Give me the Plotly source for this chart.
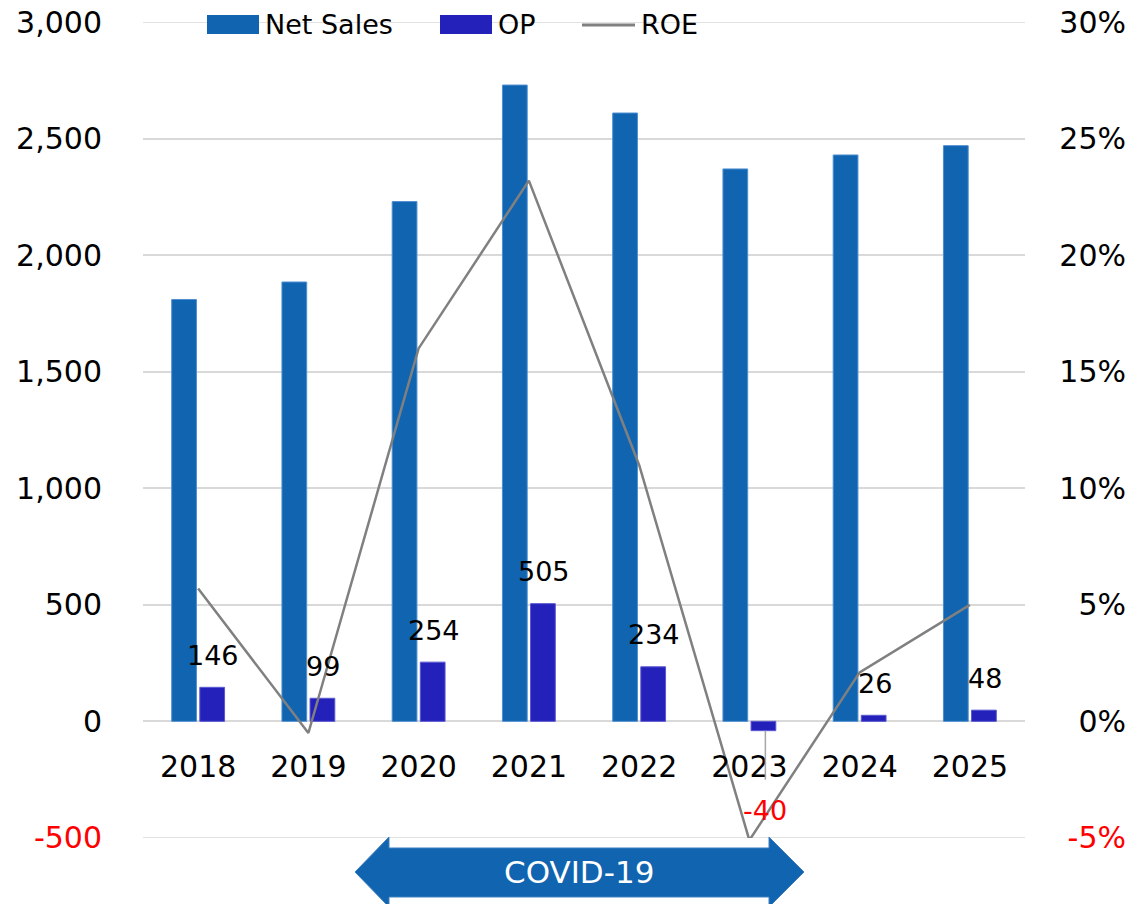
import plotly.graph_objects as go

# values
years = ['2018', '2019', '2020', '2021', '2022', '2023', '2024', '2025']
net_sales = [1810, 1885, 2230, 2730, 2610, 2370, 2430, 2470]
op = [146, 99, 254, 505, 234, -40, 26, 48]
roe_pct = [5.7, -0.5, 16.0, 23.2, 11.0, -5.1, 2.1, 5.0]

left_ticks = [-500, 0, 500, 1000, 1500, 2000, 2500, 3000]
right_ticks = [-5, 0, 5, 10, 15, 20, 25, 30]
band_label = 'COVID-19'

BLUE = '#1064B0'; INDIGO = '#2420BA'; GRAY = '#808080'; GRID = '#D9D9D9'; RED = '#FF0000'
FONT = 'DejaVu Sans'

W, H = 1132, 904
ML, MR, MT, MB = 143, 6, 22, 66
PLOT_R = 1025
PW, PH = W - ML - MR, H - MT - MB
XDOM = (PLOT_R - ML) / PW


def px(x):
    return (x - ML) / PW


def py(y):
    return (H - MB - y) / PH


def tick_text(v, fmt):
    s = fmt(v)
    return f'<span style="color:{RED}">{s}</span>' if v < 0 else s


fig = go.Figure()
fig.add_trace(go.Bar(
    x=years, y=net_sales, name='Net Sales', marker_color=BLUE,
    marker_line=dict(color='#4F8FD0', width=1), showlegend=False,
))
fig.add_trace(go.Bar(
    x=years, y=op, name='OP', marker_color=INDIGO,
    marker_line=dict(color='#5A57D0', width=1), showlegend=False,
))
fig.add_trace(go.Scatter(
    x=years, y=[v / 100 for v in roe_pct], name='ROE', yaxis='y2', mode='lines',
    line=dict(color=GRAY, width=2.5), showlegend=False,
))

# OP data labels (x given as category index so '2018' is not read as a number)
ann = []
for i, v in enumerate(op):
    if v >= 0:
        ann.append(dict(x=i, y=v, xref='x', yref='y', text=str(v), showarrow=False,
                        xshift=15, yshift=32, yanchor='middle',
                        font=dict(size=27, color='black', family=FONT)))
    else:
        ann.append(dict(x=i, y=v, xref='x', yref='y', text=str(v), showarrow=True,
                        ax=0, ay=80, xshift=16, arrowhead=0, arrowwidth=1.5,
                        arrowcolor='#A6A6A6', standoff=0, startstandoff=14,
                        font=dict(size=27, color=RED, family=FONT)))

# plotly drops gridlines sitting on the plot edges, so draw those two by hand
shapes = [dict(type='line', xref='paper', yref='y', x0=0, x1=XDOM, y0=v, y1=v, layer='below',
               line=dict(color=GRID, width=1.5)) for v in (left_ticks[0], left_ticks[-1])]

# legend drawn by hand (wide swatches like the source)
shapes += [
    dict(type='rect', xref='paper', yref='paper', x0=px(207), x1=px(259), y0=py(34), y1=py(15),
         fillcolor=BLUE, line=dict(width=0)),
    dict(type='rect', xref='paper', yref='paper', x0=px(440), x1=px(492), y0=py(34), y1=py(15),
         fillcolor=INDIGO, line=dict(width=0)),
    dict(type='line', xref='paper', yref='paper', x0=px(582), x1=px(635), y0=py(25), y1=py(25),
         line=dict(color=GRAY, width=3)),
]
for label, x0 in [('Net Sales', 263), ('OP', 496), ('ROE', 639)]:
    ann.append(dict(x=px(x0), y=py(25), xref='paper', yref='paper', text=label, showarrow=False,
                    xanchor='left', yanchor='middle', font=dict(size=27, color='black', family=FONT)))

# COVID-19 double arrow under the axis
pts = [(355, 872), (389, 837), (389, 848), (769, 848), (769, 837), (804, 872),
       (769, 907), (769, 897), (389, 897), (389, 907)]
path = 'M ' + ' L '.join(f'{px(a):.5f},{py(b):.5f}' for a, b in pts) + ' Z'
shapes.append(dict(type='path', xref='paper', yref='paper', path=path,
                   fillcolor=BLUE, line=dict(color='#3F7FC0', width=1), layer='above'))
ann.append(dict(x=px(579), y=py(872), xref='paper', yref='paper', text=band_label, showarrow=False,
                xanchor='center', yanchor='middle', font=dict(size=31, color='white', family=FONT)))

fig.update_layout(
    width=W, height=H, margin=dict(l=ML, r=MR, t=MT, b=MB, autoexpand=False),
    plot_bgcolor='white', paper_bgcolor='white',
    font=dict(family=FONT, size=30, color='black'),
    barmode='group', bargap=0.49, bargroupgap=0.12,
    showlegend=False,
    xaxis=dict(type='category', categoryorder='array', categoryarray=years,
               range=[-0.5, len(years) - 0.5],
               domain=[0, XDOM], anchor='free',
               position=500.5 / 3501, showgrid=False, zeroline=False, showline=False,
               ticks='', ticklabelstandoff=25, tickfont=dict(size=30), automargin=False),
    yaxis=dict(range=[-500.5, 3000.5], tickvals=left_ticks,
               ticktext=[tick_text(v, lambda t: f'{t:,}') for v in left_ticks],
               showgrid=True, gridcolor=GRID, gridwidth=1.5, zeroline=False, showline=False,
               ticks='', ticklabelstandoff=40, tickfont=dict(size=30), automargin=False),
    yaxis2=dict(range=[-0.05005, 0.30005], overlaying='y', side='left', anchor='free', position=1,
                tickvals=[v / 100 for v in right_ticks],
                ticktext=[tick_text(v, lambda t: f'{t}%') for v in right_ticks],
                showgrid=False, zeroline=False, showline=False, ticks='',
                ticklabelstandoff=0, tickfont=dict(size=30), automargin=False),
    shapes=shapes, annotations=ann,
)

fig.write_html('out.html', config={'displayModeBar': False},
               post_script="document.body.style.margin='0px';")
